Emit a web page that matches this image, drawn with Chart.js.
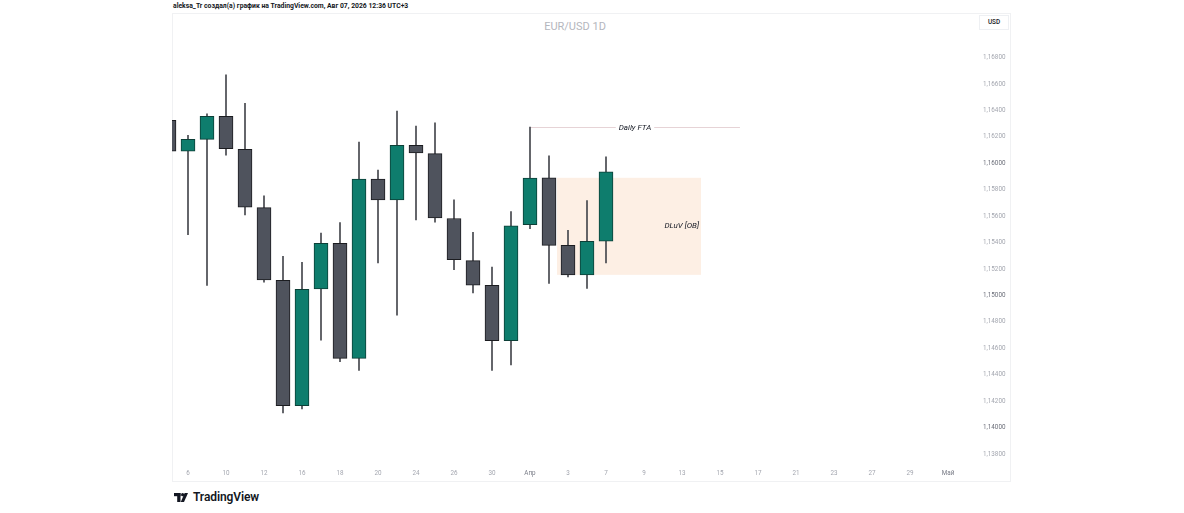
<!DOCTYPE html>
<html><head><meta charset="utf-8">
<script src="https://cdn.jsdelivr.net/npm/chart.js@4.4.1/dist/chart.umd.min.js"></script>
<style>
html,body{margin:0;padding:0;background:#fff;width:1184px;height:513px;overflow:hidden;font-family:Roboto,'Liberation Sans',sans-serif;}
#frame{position:absolute;left:172px;top:13px;width:839px;height:469px;border:1px solid #f0f1f3;box-sizing:border-box;}
#hdr{position:absolute;left:173px;top:2px;font-size:6.8px;font-weight:700;color:#131722;white-space:nowrap;line-height:8px;}
#ttl{position:absolute;left:475px;width:200px;text-align:center;top:20px;font-size:11px;color:#b4b6bd;line-height:14px;}
#usd{position:absolute;left:979px;top:15px;width:30px;height:15px;border:1px solid #eef0f3;box-sizing:border-box;font-size:6.4px;color:#131722;text-align:center;line-height:13px;font-weight:500;}
#logo{position:absolute;left:174px;top:490px;height:14px;display:flex;align-items:center;}
#logo span{font-size:12px;font-weight:600;color:#131722;margin-left:5px;letter-spacing:-0.1px;}
canvas{position:absolute;left:0;top:0;}
</style>
</head><body>
<div id="frame"></div>
<div id="hdr">aleksa_Tr создал(а) график на TradingView.com, Авг 07, 2026 12:36 UTC+3</div>
<div id="ttl">EUR/USD 1D</div>
<div id="usd">USD</div>
<div id="logo"><svg width="14" height="9" viewBox="0 0 14 9"><rect x="0" y="0" width="6.5" height="3.2" fill="#131722"/><rect x="3.2" y="0" width="3.3" height="9" fill="#131722"/><circle cx="8.6" cy="1.7" r="1.6" fill="#131722"/><polygon points="10.6,0 14,0 10,9 6.8,9" fill="#131722"/></svg><span>TradingView</span></div>
<canvas id="c" width="1184" height="513"></canvas>
<script>
// trading days (x tick labels shown on every second day)
const dayLabels = ['5','6','9','10','11','12','13','16','17','18','19','20','23','24','25','26','27','30','31','Апр','2','3','6','7','8','9','10','13','14','15','16','17','20','21','22','23','24','27','28','29','30','Май'];
const monthLabels = ['Апр','Май'];
// OHLC values, one per trading day from index 0
const opens  = [1.16324,1.16091,1.16181,1.16356,1.16106,1.15665,1.15114,1.14166,1.15050,1.15394,1.14524,1.15880,1.15723,1.16136,1.16073,1.15582,1.15264,1.15076,1.14657,1.15535,1.15890,1.15379,1.15156,1.15411];
const highs  = [1.16400,1.16211,1.16374,1.16670,1.16454,1.15753,1.15296,1.15251,1.15471,1.15552,1.16161,1.15948,1.16394,1.16281,1.16306,1.15723,1.15477,1.15214,1.15635,1.16274,1.16056,1.15492,1.15717,1.16048];
const lows   = [1.16000,1.15459,1.15076,1.16061,1.15610,1.15101,1.14111,1.14141,1.14662,1.14499,1.14432,1.15246,1.14850,1.15572,1.15554,1.15196,1.15020,1.14432,1.14474,1.15505,1.15091,1.15141,1.15053,1.15246];
const closes = [1.16091,1.16181,1.16356,1.16111,1.15667,1.15118,1.14166,1.15046,1.15394,1.14524,1.15880,1.15723,1.16136,1.16078,1.15587,1.15271,1.15078,1.14657,1.15527,1.15888,1.15379,1.15156,1.15409,1.15935];
// price tick labels
const priceTicks = [1.138,1.140,1.142,1.144,1.146,1.148,1.150,1.152,1.154,1.156,1.158,1.160,1.162,1.164,1.166,1.168];
// annotations
const obStart = 20.42, obEnd = 28, obHigh = 1.15890, obLow = 1.15156;
const ftaStart = 19, ftaEnd = 30.05, ftaPrice = 1.16274;

const UP = '#0e7d6d', DOWN = '#4f535d';
const bodies = opens.map((o,i)=>({x:i, y:[o, closes[i]]}));
const wicks = opens.map((o,i)=>({x:i, y:[lows[i], highs[i]]}));
const bodyColors = opens.map((o,i)=> closes[i] >= o ? UP : DOWN);
const bodyBorders = opens.map((o,i)=> closes[i] >= o ? '#0d3f37' : '#1b1c20');

Chart.defaults.font.family = "Roboto, 'Liberation Sans', sans-serif";

const overlay = {
  id: 'overlay',
  beforeDatasetsDraw(chart){
    const {ctx, scales:{x,y}, chartArea:a} = chart;
    ctx.save();
    ctx.beginPath(); ctx.rect(a.left, a.top, a.width, a.height); ctx.clip();
    const x0 = x.getPixelForValue(obStart), x1 = x.getPixelForValue(obEnd);
    const y0 = y.getPixelForValue(obHigh), y1 = y.getPixelForValue(obLow);
    ctx.fillStyle = '#fdefe4';
    ctx.fillRect(x0, y0, x1-x0, y1-y0);
    // Daily FTA line
    const lx0 = x.getPixelForValue(ftaStart), lx1 = x.getPixelForValue(ftaEnd);
    const ly = Math.round(y.getPixelForValue(ftaPrice)) + 0.5;
    ctx.font = 'italic 8px Roboto, sans-serif';
    const label = 'Daily FTA';
    const tw = ctx.measureText(label).width;
    const cx = (lx0 + lx1) / 2;
    ctx.strokeStyle = '#e6d3d6'; ctx.lineWidth = 1;
    ctx.beginPath();
    ctx.moveTo(lx0, ly); ctx.lineTo(cx - tw/2 - 3, ly);
    ctx.moveTo(cx + tw/2 + 3, ly); ctx.lineTo(lx1, ly);
    ctx.stroke();
    ctx.fillStyle = '#131722'; ctx.textAlign = 'center'; ctx.textBaseline = 'middle';
    ctx.fillText(label, cx, ly);
    ctx.restore();
  },
  afterDatasetsDraw(chart){
    const {ctx, scales:{x,y}} = chart;
    ctx.save();
    ctx.font = 'italic 8px Roboto, sans-serif';
    ctx.fillStyle = '#131722'; ctx.textAlign = 'right'; ctx.textBaseline = 'middle';
    const x1 = x.getPixelForValue(obEnd);
    const ym = (y.getPixelForValue(obHigh) + y.getPixelForValue(obLow)) / 2;
    ctx.fillText('DLuV [OB]', x1 - 2, ym);
    ctx.restore();
  }
};

new Chart(document.getElementById('c'), {
  type: 'bar',
  data: {
    datasets: [
      {data: bodies, backgroundColor: bodyColors, borderColor: bodyBorders, borderWidth: 1, borderSkipped: false, barThickness: 14, grouped: false, order: 1, clip: 0},
      {data: wicks, backgroundColor: '#45474d', borderWidth: 0, barThickness: 1, grouped: false, order: 2, clip: 0}
    ]
  },
  options: {
    responsive: false,
    animation: false,
    layout: {padding: {left: 172, top: 14, right: 174, bottom: 32}},
    plugins: {legend: {display: false}, tooltip: {enabled: false}},
    scales: {
      x: {
        type: 'linear', offset: false,
        min: (172 - 169) / 19, max: (970 - 169) / 19,
        grid: {display: false, drawTicks: false}, border: {display: false},
        afterBuildTicks: s => { s.ticks = dayLabels.map((l,i)=>({value:i})).filter(t => t.value % 2 === 1); },
        afterFit: s => { s.height = 15; },
        ticks: {
          autoSkip: false, maxRotation: 0, padding: 4,
          font: {size: 6.3},
          color: c => monthLabels.includes(dayLabels[c.tick.value]) ? '#787b86' : '#a3a6af',
          callback: v => dayLabels[v]
        }
      },
      y: {
        position: 'right',
        min: 1.168 - (466 - 55) / 13300, max: 1.168 + (55 - 14) / 13300,
        grid: {display: false, drawTicks: false}, border: {display: false},
        afterBuildTicks: s => { s.ticks = priceTicks.map(v => ({value: v})); },
        afterFit: s => { s.width = 40; },
        ticks: {
          padding: 13, font: {size: 6.3},
          color: c => (Math.round(c.tick.value * 1000) % 10 === 0) ? '#6a6d78' : '#a3a6af',
          callback: v => v.toFixed(5).replace('.', ',')
        }
      }
    }
  },
  plugins: [overlay]
});
</script>
</body></html>
